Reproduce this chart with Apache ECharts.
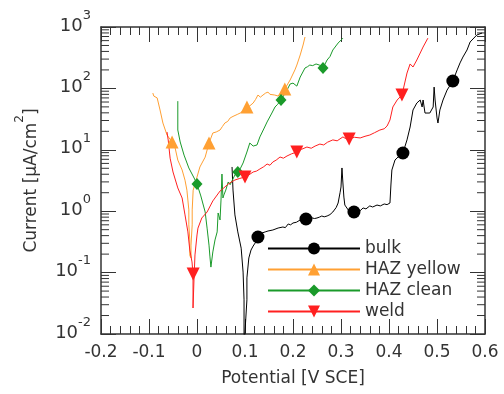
<!DOCTYPE html>
<html>
<head>
<meta charset="utf-8">
<script src="https://cdn.jsdelivr.net/npm/echarts@6/dist/echarts.min.js"></script>
<style>
  html, body { margin: 0; padding: 0; background: #fff; }
  #chart { width: 504px; height: 394px; }
</style>
</head>
<body>
<div id="chart"></div>
<script>
var xMin = -0.2, xMax = 0.6, xStep = 0.1;
var yMin = 0.01, yMax = 1000;
var decades = [0.01, 0.1, 1, 10, 100];
var minorSteps = [2, 3, 4, 5, 6, 7, 8, 9];
var seriesNames = ['bulk', 'HAZ yellow', 'HAZ clean', 'weld'];

// [potential V, current uA/cm2]
var bulkData = [
	[0.073,5.25],[0.075,2.21],[0.079,0.87],[0.085,0.46],[0.092,0.25],[0.096,0.102],[0.098,0.036],[0.098,0.006],
	[0.102,0.006],[0.104,0.036],[0.104,0.082],[0.108,0.173],[0.1125,0.233],[0.117,0.271],[0.122,0.31],[0.127,0.38],
	[0.132,0.40],[0.135,0.44],[0.1375,0.425],[0.142,0.46],[0.145,0.44],[0.148,0.476],[0.152,0.46],[0.158,0.494],
	[0.162,0.48],[0.169,0.532],[0.173,0.51],[0.179,0.553],[0.184,0.54],[0.190,0.619],[0.195,0.60],[0.200,0.643],
	[0.207,0.66],[0.215,0.72],[0.220,0.70],[0.227,0.746],[0.233,0.73],[0.240,0.775],[0.245,0.76],[0.250,0.775],
	[0.255,0.80],[0.260,0.835],[0.265,0.81],[0.271,0.835],[0.277,0.88],[0.283,0.97],[0.290,1.15],[0.294,1.36],
	[0.298,2.0],[0.300,2.48],[0.302,5.06],[0.304,2.88],[0.306,1.7],[0.308,1.26],[0.315,1.05],[0.321,1.0],
	[0.327,0.97],[0.335,1.06],[0.340,1.02],[0.346,1.13],[0.352,1.09],[0.360,1.22],[0.366,1.17],[0.375,1.26],
	[0.382,1.22],[0.390,1.31],[0.396,1.28],[0.402,1.36],[0.404,2.67],[0.406,4.69],[0.4125,6.82],[0.421,7.93],
	[0.429,8.87],[0.4375,14.5],[0.444,23.5],[0.450,44.5],[0.458,57.8],[0.465,64.7],[0.469,49.8],[0.471,64.7],
	[0.475,39.7],[0.479,36.9],[0.485,39.7],[0.492,49.8],[0.494,105],[0.496,64.7],[0.500,33],[0.502,27.3],
	[0.506,44.5],[0.5125,64.7],[0.521,94],[0.533,132],[0.542,200],[0.548,260],[0.554,324],[0.5625,422],
	[0.569,570],[0.583,741],[0.594,798]
];
var hazYellowData = [
	[-0.092,84],[-0.090,75],[-0.083,70],[-0.077,44.5],[-0.071,27.3],[-0.0625,17.4],[-0.052,13.4],[-0.046,11.1],
	[-0.040,6.8],[-0.031,4.7],[-0.025,3.2],[-0.021,2.2],[-0.019,1.52],[-0.017,1.05],[-0.017,0.6],[-0.015,0.34],
	[-0.015,0.19],[-0.0125,0.173],[-0.0125,0.28],[-0.010,0.6],[-0.010,1.05],[-0.008,2.2],[0.000,3.6],[0.006,5.25],
	[0.017,7.6],[0.025,12.9],[0.033,18.8],[0.040,19.5],[0.048,21],[0.053,24],[0.058,27.3],[0.064,29],
	[0.069,33],[0.075,35],[0.079,36.9],[0.085,38],[0.090,39.7],[0.097,44],[0.104,49.8],[0.110,52],
	[0.117,57.8],[0.122,66],[0.127,78],[0.132,72],[0.1375,78],[0.143,84],[0.148,87],[0.152,80],
	[0.156,81],[0.162,78],[0.169,75],[0.176,88],[0.183,98],[0.194,137],[0.204,200],[0.208,240],
	[0.215,350],[0.221,509],[0.225,687]
];
var hazCleanData = [
	[-0.040,62],[-0.040,21],[-0.035,13.4],[-0.027,8.2],[-0.017,5.06],[-0.006,3.47],[0.000,2.77],[0.008,1.77],
	[0.017,0.97],[0.021,0.53],[0.025,0.28],[0.027,0.18],[0.029,0.123],[0.033,0.217],[0.0375,0.34],[0.042,0.46],
	[0.044,0.935],[0.048,0.72],[0.050,1.52],[0.052,4.03],[0.054,1.64],[0.056,1.84],[0.060,2.21],[0.065,2.99],
	[0.069,2.7],[0.073,2.88],[0.079,3.89],[0.085,4.35],[0.090,4.9],[0.096,6.1],[0.104,9.2],[0.110,12.9],
	[0.117,11.5],[0.125,12.0],[0.131,16.2],[0.140,22.6],[0.146,28.4],[0.156,39.7],[0.1625,49.8],[0.168,55],
	[0.175,64.7],[0.1875,94],[0.194,118],[0.200,122],[0.208,109],[0.215,153],[0.225,215],[0.230,225],
	[0.235,240],[0.241,235],[0.248,250],[0.255,240],[0.2625,215],[0.271,290],[0.277,330],[0.283,422],
	[0.294,548],[0.304,658]
];
var weldData = [
	[-0.0625,19.5],[-0.060,14.5],[-0.056,7.3],[-0.050,4.35],[-0.040,2.39],[-0.031,1.64],[-0.025,0.87],[-0.019,0.46],
	[-0.015,0.233],[-0.0104,0.149],[-0.0083,0.095],[-0.0083,0.0265],[-0.0063,0.076],[-0.0042,0.194],[0.000,0.41],[0.002,0.53],
	[0.010,0.775],[0.021,0.97],[0.033,1.47],[0.048,2.13],[0.056,2.4],[0.065,2.77],[0.072,3.0],[0.079,3.22],
	[0.088,3.4],[0.100,3.61],[0.108,3.9],[0.117,4.35],[0.124,4.5],[0.131,4.87],[0.139,5.3],[0.146,5.87],
	[0.152,5.6],[0.158,6.33],[0.165,6.8],[0.173,7.63],[0.180,7.3],[0.1875,7.93],[0.197,8.6],[0.208,9.2],
	[0.218,10.2],[0.229,11.1],[0.238,10.6],[0.246,11.5],[0.256,12.4],[0.264,12.0],[0.272,13.3],[0.283,14.5],
	[0.292,14.0],[0.304,16.2],[0.310,15.2],[0.317,15.0],[0.328,16.0],[0.340,15.6],[0.350,16.6],[0.360,17.4],
	[0.370,19.0],[0.381,21],[0.390,22],[0.396,24.4],[0.402,30.6],[0.408,49.8],[0.417,64.7],[0.427,78],
	[0.4375,178],[0.444,250],[0.450,223],[0.458,290],[0.471,472],[0.481,658]
];

// marker positions on each curve
var bulkMarks = [[0.127,0.38],[0.227,0.746],[0.327,0.97],[0.429,8.87],[0.533,132]];
var hazYellowMarks = [[-0.052,13.4],[0.025,12.9],[0.104,49.8],[0.183,98]];
var hazCleanMarks = [[0.000,2.77],[0.085,4.35],[0.175,64.7],[0.2625,215]];
var weldMarks = [[-0.008,0.095],[0.100,3.61],[0.208,9.2],[0.317,15.0],[0.427,78]];

var colors = ['#000000', '#ffa033', '#1a9a2a', '#ff2020'];
var fontFamily = 'DejaVu Sans';
var axisColor = '#333';
var textColor = '#333';

var minorTicks = [];
decades.forEach(function(d) {
	minorSteps.forEach(function(m) { minorTicks.push([xMin, d * m]); });
});

var supRich = {
	a: {fontFamily: fontFamily, fontSize: 18, color: textColor, lineHeight: 26, verticalAlign: 'bottom'},
	s: {fontFamily: fontFamily, fontSize: 13, color: textColor, lineHeight: 14, verticalAlign: 'top'}
};

function curve(name, data, marks, color, symbol, size, rotate) {
	return {
		name: name, type: 'line', data: data,
		symbol: symbol, symbolRotate: rotate, showSymbol: false,
		lineStyle: {color: color, width: 1}, itemStyle: {color: color},
		clip: true, animation: false,
		markPoint: {
			symbol: symbol, symbolSize: size, symbolRotate: rotate,
			label: {show: false}, itemStyle: {color: color},
			silent: true, animation: false,
			data: marks.map(function(m) { return {coord: m}; })
		}
	};
}

function xAxisOpt(pos) {
	return {
		type: 'value', position: pos, min: xMin, max: xMax, interval: xStep,
		axisLine: {show: true, onZero: false, lineStyle: {color: axisColor, width: 1.5}},
		axisTick: {show: true, inside: true, length: 15, lineStyle: {color: axisColor, width: 1}},
		minorTick: {show: true, splitNumber: 5, length: 8, lineStyle: {color: axisColor, width: 1}},
		splitLine: {show: false},
		axisLabel: {show: pos === 'bottom', margin: 10, fontFamily: fontFamily, fontSize: 17, color: textColor},
		name: pos === 'bottom' ? 'Potential [V SCE]' : '',
		nameLocation: 'middle', nameGap: 36,
		nameTextStyle: {fontFamily: fontFamily, fontSize: 17, color: textColor}
	};
}

function yAxisOpt(pos) {
	return {
		type: 'log', logBase: 10, position: pos, min: yMin, max: yMax,
		axisLine: {show: true, onZero: false, lineStyle: {color: axisColor, width: 1.5}},
		axisTick: {show: true, inside: true, length: 15, lineStyle: {color: axisColor, width: 1}},
		splitLine: {show: false},
		axisLabel: {
			show: pos === 'left', margin: 10, padding: [0, 0, 10, 0],
			formatter: function(v) { return '{a|10}{s|' + Math.round(Math.log10(v)) + '}'; },
			rich: supRich
		},
		name: pos === 'left' ? '{a|Current [μA/cm}{s|2}{a|]}' : '',
		nameLocation: 'middle', nameGap: 61,
		nameTextStyle: {rich: {
			a: {fontFamily: fontFamily, fontSize: 17, color: textColor, lineHeight: 26, verticalAlign: 'bottom'},
			s: {fontFamily: fontFamily, fontSize: 12, color: textColor, lineHeight: 14, verticalAlign: 'top'}
		}}
	};
}

var chart = echarts.init(document.getElementById('chart'), null, {renderer: 'canvas'});
chart.setOption({
	backgroundColor: '#fff',
	animation: false,
	grid: {left: 101, right: 19, top: 27, bottom: 60},
	xAxis: [xAxisOpt('bottom'), xAxisOpt('top')],
	yAxis: [yAxisOpt('left'), yAxisOpt('right')],
	legend: {
		data: seriesNames, orient: 'vertical', left: 262, top: 235,
		itemWidth: 92, itemHeight: 15, itemGap: 4,
		textStyle: {fontFamily: fontFamily, fontSize: 17, color: textColor}
	},
	series: [
		curve(seriesNames[0], bulkData, bulkMarks, colors[0], 'circle', 13, 0),
		curve(seriesNames[1], hazYellowData, hazYellowMarks, colors[1], 'triangle', 13, 0),
		curve(seriesNames[2], hazCleanData, hazCleanMarks, colors[2], 'diamond', [11, 12], 0),
		curve(seriesNames[3], weldData, weldMarks, colors[3], 'triangle', 13, 180),
		{
			// log minor ticks on left and right frame
			type: 'custom', silent: true, clip: false, z: 1,
			data: minorTicks, encode: {x: 0, y: 1},
			renderItem: function(params, api) {
				var l = api.coord([xMin, api.value(1)]);
				var r = api.coord([xMax, api.value(1)]);
				var st = {stroke: axisColor, lineWidth: 1};
				return {type: 'group', children: [
					{type: 'line', shape: {x1: l[0], y1: l[1], x2: l[0] + 8, y2: l[1]}, style: st},
					{type: 'line', shape: {x1: r[0] - 8, y1: r[1], x2: r[0], y2: r[1]}, style: st}
				]};
			}
		}
	]
});
</script>
</body>
</html>
